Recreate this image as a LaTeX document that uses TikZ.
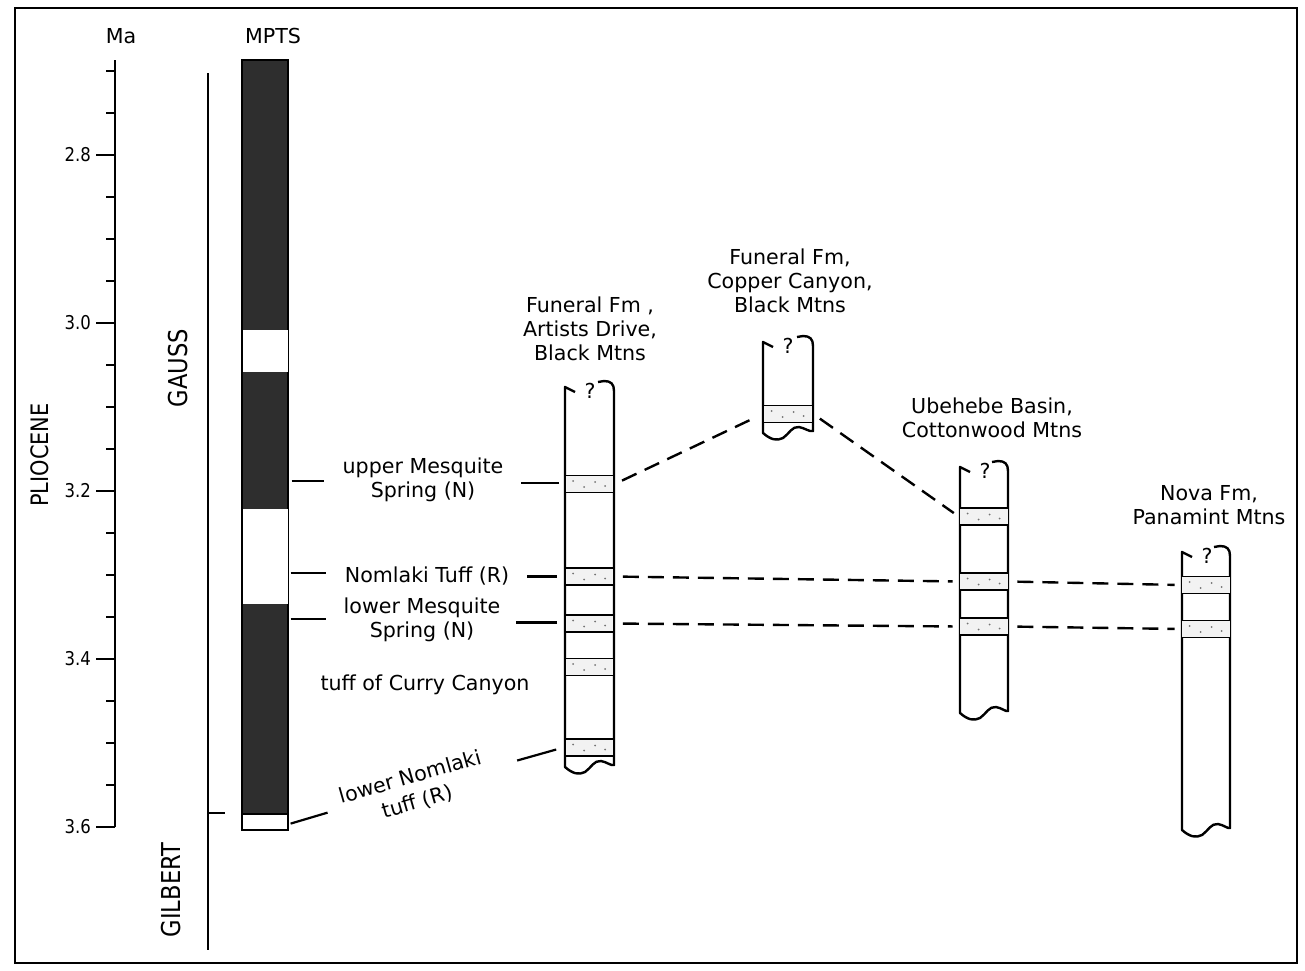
\documentclass[tikz,border=0pt]{standalone}
\usepackage{fontspec}
\setmainfont{DejaVu Sans}
\newfontfamily\condfont[FakeStretch=0.87]{DejaVu Sans}
\usetikzlibrary{positioning, calc}

\begin{document}
\begin{tikzpicture}[
    x=0.5pt, y=-0.5pt,
    frame/.style={line width=0.8pt},
    colline/.style={line width=1.2pt, line join=round},
    bed/.style={draw, line width=0.8pt, fill=black!5, minimum width=24.5pt, minimum height=8.5pt, inner sep=0pt},
    corr/.style={line width=1.2pt, dash pattern=on 8pt off 4.5pt, shorten <=4pt, shorten >=3pt},
    lead/.style={line width=1.1pt},
    lbl/.style={font=\fontsize{10.3}{12}\selectfont, align=center, inner sep=1pt},
    era/.style={font=\condfont\fontsize{13}{14}\selectfont, rotate=90},
    num/.style={font=\condfont\fontsize{9.5}{10}\selectfont, inner sep=2pt},
  ]
  \useasboundingbox (0,0) rectangle (1305,970);
  \draw[frame] (15,8) rectangle (1297,963);

  % Age scale
  \node[lbl] (ma) at (121,36) {Ma};
  \draw[lead] (115,60) -- (115,827);
  \foreach \i in {0,...,18}
    \draw[lead] (115,71+42*\i) -- ++(-9,0);
  \foreach \v [count=\k from 0] in {2.8,3.0,3.2,3.4,3.6}
    \draw[lead] (115,155+168*\k) -- ++(-19,0) node[left, num] (age\k) {\v};
  \node[era, font=\condfont\fontsize{12}{14}\selectfont] (plio) at (40,455) {PLIOCENE};

  % Polarity time scale
  \node[lbl] (mptslbl) at (273,36) {MPTS};
  \node[draw, fill=black!82, line width=0.6pt, minimum width=23pt, minimum height=385pt, inner sep=0pt] (mpts) at (265,445) {};
  \fill[white] (242.5,330) rectangle (287.5,372);
  \fill[white] (242.5,509) rectangle (287.5,604);
  \draw[fill=white, line width=0.8pt] (242,814) rectangle (288,830);
  \draw[lead] (208,73) -- (208,950);
  \draw[lead] (208,813) -- (225,813);
  \node[era] (gauss) at (178,368) {GAUSS};
  \node[era] (gilbert) at (171,890) {GILBERT};

  % Tuff labels
  \node[lbl] (um) at (423,480) {upper Mesquite\\Spring (N)};
  \node[lbl] (nt) at (427,576) {Nomlaki Tuff (R)};
  \node[lbl] (lm) at (422,620) {lower Mesquite\\Spring (N)};
  \node[lbl] (tc) at (425,685) {tuff of Curry Canyon};
  \node[lbl, rotate=16, font=\fontsize{10.3}{13}\selectfont] (ln) at (414,790) {lower Nomlaki\\tuff (R)};

  % Sections
  \foreach \xa/\xb/\ya/\yb in {565/614/387/767, 763/813/342/433, 960/1008/467/713, 1182/1230/552/830}{
    \draw[colline] (\xa+10,\ya+5) -- (\xa,\ya) -- (\xa,\yb)
      .. controls (\xa+8,\yb+7) and (\xa+14,\yb+8) .. (\xa+20,\yb+5)
      .. controls (\xa+26,\yb+1) and (\xa+29,\yb-7) .. (\xa+36,\yb-6)
      .. controls (\xa+42,\yb-5) and (\xa+46,\yb-1) .. (\xb,\yb-2)
      -- (\xb,\ya+4) .. controls (\xb,\ya-3) and (\xb-3,\ya-6) .. (\xb-10,\ya-6) -- (\xb-16,\ya-5);
    \node[lbl] at (\xa+25,\ya+4) {?};
  }
  \node[lbl] (t-ad) at (590,329) {Funeral Fm ,\\Artists Drive,\\Black Mtns};
  \node[lbl] (t-cc) at (790,281) {Funeral Fm,\\Copper Canyon,\\Black Mtns};
  \node[lbl] (t-ub) at (992,418) {Ubehebe Basin,\\Cottonwood Mtns};
  \node[lbl] (t-nv) at (1209,505) {Nova Fm,\\Panamint Mtns};

  % Tuff beds
  \node[bed] (ad-um) at (589.5,484) {};
  \node[bed] (ad-nt) at (589.5,576.5) {};
  \node[bed] (ad-lm) at (589.5,623.5) {};
  \node[bed] (ad-cc) at (589.5,667) {};
  \node[bed] (ad-ln) at (589.5,747.5) {};
  \node[bed] (cc-b) at (788,414) {};
  \node[bed] (ub-1) at (984,516.5) {};
  \node[bed] (ub-2) at (984,581.5) {};
  \node[bed] (ub-3) at (984,626.5) {};
  \node[bed] (nv-1) at (1206,585) {};
  \node[bed] (nv-2) at (1206,629) {};
  \foreach \b in {ad-um,ad-nt,ad-lm,ad-cc,ad-ln,cc-b,ub-1,ub-2,ub-3,nv-1,nv-2}
    \foreach \dx/\dy in {9/-3,20/3,31/-2,41/2}
      \fill[black!55] ([shift={(\dx,\dy)}]\b.west) circle (0.5pt);

  % Leaders
  \draw[lead] (mpts.east |- um) ++(3,1) -- ++(32,0);
  \draw[lead] (mpts.east |- nt) ++(2,-3) -- ++(35,0);
  \draw[lead] (mpts.east |- lm) ++(2,-1) -- ++(35,0);
  \draw[lead] (mpts.south east) ++(2,-7) -- ++(37,-11);
  \draw[lead] (ad-um.west) ++(-5,-1) -- ++(-38,0);
  \draw[lead] (ad-nt.west) ++(-7,0) -- ++(-30,0);
  \draw[lead] (ad-lm.west) ++(-7,-1) -- ++(-41,0);
  \draw[lead] (ad-ln.west) ++(-8,2) -- ++(-39,11);

  % Correlations
  \draw[corr] (ad-um.east) -- (cc-b.west);
  \draw[corr] (cc-b.east) -- (ub-1.west);
  \draw[corr] (ad-nt.east) -- (ub-2.west);
  \draw[corr] (ub-2.east) -- (nv-1.west);
  \draw[corr] (ad-lm.east) -- (ub-3.west);
  \draw[corr] (ub-3.east) -- (nv-2.west);
\end{tikzpicture}
\end{document}
